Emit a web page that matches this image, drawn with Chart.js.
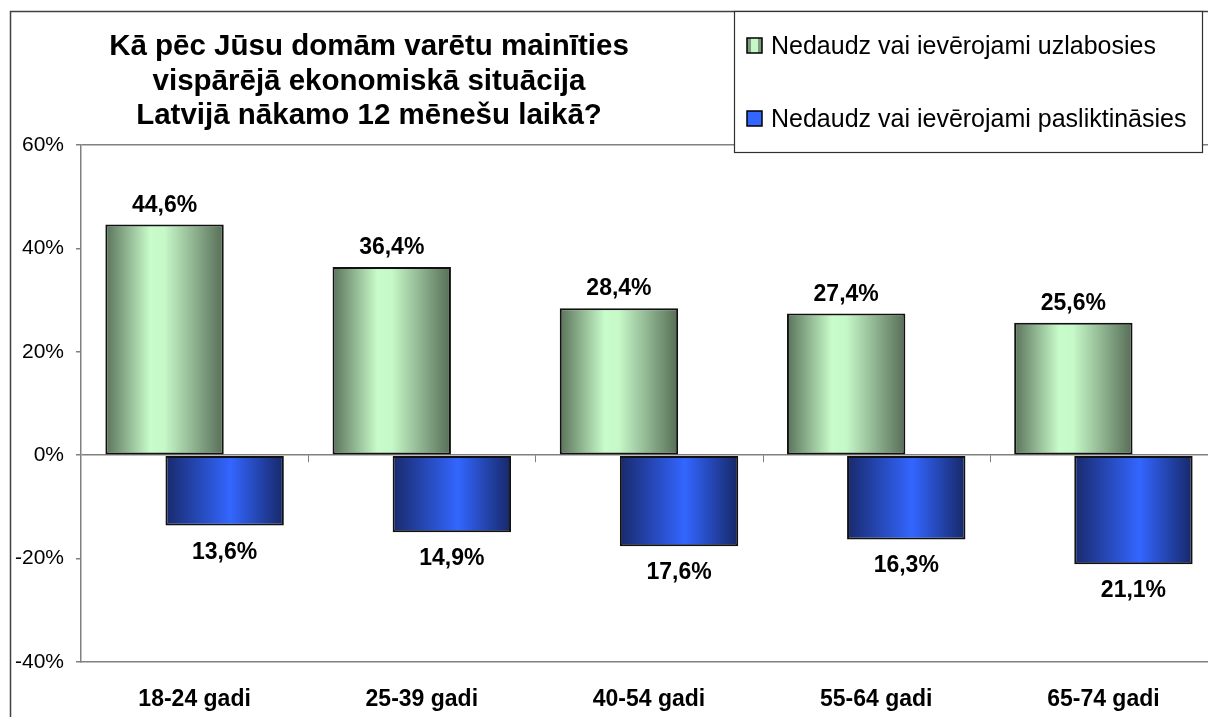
<!DOCTYPE html>
<html>
<head>
<meta charset="utf-8">
<script src="https://cdn.jsdelivr.net/npm/chart.js@4.4.0/dist/chart.umd.min.js"></script>
<style>
  html, body { margin: 0; padding: 0; background: #fff; overflow: hidden; }
  #wrap { position: relative; width: 1230px; height: 717px; }
</style>
</head>
<body>
<div id="wrap"><canvas id="chart"></canvas></div>
<script>
// chart data
const categories = ["18-24 gadi", "25-39 gadi", "40-54 gadi", "55-64 gadi", "65-74 gadi"];
const better = [44.6, 36.4, 28.4, 27.4, 25.6];
const worse = [-13.6, -14.9, -17.6, -16.3, -21.1];
const seriesNames = ["Nedaudz vai ievērojami uzlabosies", "Nedaudz vai ievērojami pasliktināsies"];
const titleLines = ["Kā pēc Jūsu domām varētu mainīties", "vispārējā ekonomiskā situācija", "Latvijā nākamo 12 mēnešu laikā?"];
const yTicks = [-40, -20, 0, 20, 40, 60];

const FONT = "'Liberation Sans', Arial, sans-serif";
const AXIS_GRAY = "#808080";

/** horizontal gradient across one bar (Excel style cylinder shading) */
function barGradient(ctx, el, stops) {
  const half = el.width / 2;
  const g = ctx.createLinearGradient(el.x - half, 0, el.x + half, 0);
  stops.forEach(s => g.addColorStop(s[0], s[1]));
  return g;
}
const GREEN_STOPS = [[0, "#5a725a"], [0.38, "#c8fcca"], [0.5, "#c6f8c8"], [1, "#566d56"]];
const BLUE_STOPS = [[0, "#192a6c"], [0.55, "#3366ff"], [1, "#172868"]];

const shading = {
  id: "shading",
  beforeDatasetsDraw(chart) {
    const ctx = chart.ctx;
    chart.data.datasets.forEach((ds, di) => {
      const stops = di === 0 ? GREEN_STOPS : BLUE_STOPS;
      chart.getDatasetMeta(di).data.forEach(el => {
        el.options = Object.assign({}, el.options, { backgroundColor: barGradient(ctx, el, stops) });
      });
    });
  }
};

/** value labels above / below bars, shown as positive numbers */
const valueLabels = {
  id: "valueLabels",
  afterDatasetsDraw(chart) {
    const ctx = chart.ctx;
    ctx.save();
    ctx.font = "bold 23px " + FONT;
    ctx.fillStyle = "#000";
    ctx.textAlign = "center";
    ctx.textBaseline = "alphabetic";
    chart.data.datasets.forEach((ds, di) => {
      chart.getDatasetMeta(di).data.forEach((el, i) => {
        const v = ds.data[i];
        const txt = Math.abs(v).toFixed(1).replace(".", ",") + "%";
        const y = v >= 0 ? el.y - 13 : el.y + 33;
        ctx.fillText(txt, el.x, y);
      });
    });
    ctx.restore();
  }
};

/** frame, title, legend box and small category ticks on the zero line */
const decor = {
  id: "decor",
  beforeDraw(chart) {
    const ctx = chart.ctx;
    ctx.save();
    ctx.fillStyle = "#fff";
    ctx.fillRect(0, 0, chart.width, chart.height);
    ctx.restore();
  },
  afterDraw(chart) {
    const ctx = chart.ctx;
    const { x, y } = chart.scales;
    ctx.save();

    // category separators on zero line
    const y0 = y.getPixelForValue(0);
    ctx.strokeStyle = AXIS_GRAY;
    ctx.lineWidth = 1;
    for (let i = 1; i < categories.length; i++) {
      const px = Math.round((x.getPixelForValue(i - 1) + x.getPixelForValue(i)) / 2) + 0.5;
      ctx.beginPath();
      ctx.moveTo(px, y0);
      ctx.lineTo(px, y0 + 7);
      ctx.stroke();
    }

    // outer frame
    ctx.strokeStyle = "#404040";
    ctx.lineWidth = 1.5;
    ctx.beginPath();
    ctx.moveTo(10.5, chart.height);
    ctx.lineTo(10.5, 11.5);
    ctx.lineTo(chart.width, 11.5);
    ctx.stroke();

    // title
    ctx.fillStyle = "#000";
    ctx.font = "bold 29.5px " + FONT;
    ctx.textAlign = "center";
    ctx.textBaseline = "alphabetic";
    titleLines.forEach((t, i) => ctx.fillText(t, 369, 55 + i * 34.5));

    // legend box
    ctx.fillStyle = "#fff";
    ctx.fillRect(734, 11, 468, 142);
    ctx.strokeStyle = "#303030";
    ctx.lineWidth = 1.2;
    ctx.strokeRect(734.5, 11.5, 468, 141);
    ctx.font = "25px " + FONT;
    ctx.textAlign = "left";
    seriesNames.forEach((name, i) => {
      const base = 54 + i * 73;
      const sx = 747, sy = base - 16, sz = 15;
      ctx.fillStyle = i === 0 ? "#c6f8c8" : "#3366ff";
      ctx.fillRect(sx, sy, sz, sz);
      if (i === 0) {
        ctx.fillStyle = "#7f9a7f";
        ctx.fillRect(sx, sy, 4, sz);
        ctx.fillRect(sx + sz - 4, sy, 4, sz);
      }
      ctx.strokeStyle = "#000";
      ctx.lineWidth = 1.5;
      ctx.strokeRect(sx, sy, sz, sz);
      ctx.fillStyle = "#000";
      ctx.fillText(name, 771, base);
    });
    ctx.restore();
  }
};

new Chart(document.getElementById("chart"), {
  type: "bar",
  data: {
    labels: categories,
    datasets: [
      { label: seriesNames[0], data: better, borderColor: "#111", borderWidth: 2, borderSkipped: false },
      { label: seriesNames[1], data: worse, borderColor: "#111", borderWidth: 2, borderSkipped: false }
    ]
  },
  options: {
    responsive: true,
    maintainAspectRatio: false,
    animation: false,
    categoryPercentage: 0.529,
    barPercentage: 1.97,
    layout: { padding: { left: 0, top: 145, right: 13, bottom: 0 } },
    plugins: {
      legend: { display: false },
      title: { display: false },
      tooltip: { enabled: false }
    },
    scales: {
      x: {
        grid: { display: false, drawTicks: false },
        border: { display: true, color: AXIS_GRAY, width: 1.5 },
        ticks: { color: "#000", font: { family: FONT, size: 23, weight: "bold" }, padding: 24 },
        afterFit: s => { s.height = 55; }
      },
      y: {
        min: -40,
        max: 60,
        afterBuildTicks: s => { s.ticks = yTicks.map(v => ({ value: v })); },
        grid: {
          color: c => (c.tick && (c.tick.value === 0 || c.tick.value === 60)) ? AXIS_GRAY : "rgba(0,0,0,0)",
          tickColor: AXIS_GRAY,
          tickLength: 5,
          lineWidth: 1.5
        },
        border: { display: true, color: AXIS_GRAY, width: 1.5 },
        ticks: {
          color: "#000",
          font: { family: FONT, size: 21 },
          padding: 12,
          callback: v => v + "%"
        },
        afterFit: s => { s.width = 81; }
      }
    }
  },
  plugins: [decor, shading, valueLabels]
});
</script>
</body>
</html>
